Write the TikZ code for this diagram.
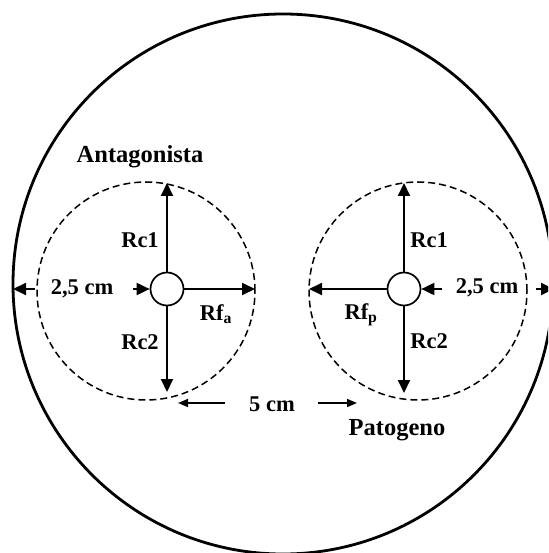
\documentclass[tikz,border=0pt]{standalone}
\usepackage{fontspec}
\setmainfont{Liberation Serif}
\usetikzlibrary{arrows.meta}
\begin{document}
\begin{tikzpicture}[x=1pt,y=-1pt,
  lbl/.style={font=\fontsize{22.5}{24}\selectfont\bfseries, inner sep=0pt, anchor=base},
  ttl/.style={font=\fontsize{24.5}{26}\selectfont\bfseries, inner sep=0pt, anchor=base},
  arr/.style={line width=1.9pt, -{Triangle[length=13pt,width=12pt]}},
  sarr/.style={line width=1.6pt, -{Triangle[length=10pt,width=8pt]}},
  plate/.style={line width=2.8pt},
  halo/.style={line width=1.5pt, dash pattern=on 7pt off 4pt},
  well/.style={circle, draw, line width=1.7pt, minimum size=33pt, inner sep=0pt, fill=white}]
\useasboundingbox (0,0) rectangle (548,553);
\fill[white] (0,0) rectangle (548,553);
\clip (0,0) rectangle (548,553);
% plate
\draw[plate] (283,284) circle (270pt);
% halos
\draw[halo] (146,291) circle (109pt);
\draw[halo] (418,291) circle (109pt);
% wells
\node[well] (ca) at (167,289) {};
\node[well] (cp) at (404,289) {};
% coordinates
\coordinate (a1) at (167,183);
\coordinate (a2) at (167,392);
\coordinate (a3) at (255,289);
\coordinate (p1) at (404,183);
\coordinate (p2) at (404,393);
\coordinate (p3) at (309,289);
\coordinate (lL) at (13,289);
\coordinate (lS) at (35,289);
\coordinate (lT) at (133,289);
\coordinate (rT) at (442,289);
\coordinate (rS) at (536,289);
\coordinate (rR) at (554,289);
\coordinate (m1) at (225,403);
\coordinate (m1e) at (178,403);
\coordinate (m2) at (318,403);
\coordinate (m2e) at (357,403);
% arrows antagonista
\draw[arr] (ca) -- (a1);
\draw[arr] (ca) -- (a2);
\draw[arr] (ca) -- (a3);
\draw[arr] (lS) -- (lL);
\draw[arr] (lT) -- (ca);
% arrows patogeno
\draw[arr] (cp) -- (p1);
\draw[arr] (cp) -- (p2);
\draw[arr] (cp) -- (p3);
\draw[arr] (rT) -- (cp);
\draw[arr] (rS) -- (rR);
% 5 cm arrows
\draw[sarr] (m1) -- (m1e);
\draw[sarr] (m2) -- (m2e);
% labels
\node[ttl] (tA) at (140,163) {Antagonista};
\node[ttl] (tP) at (397,435) {Patogeno};
\node[lbl] (dL) at (82,294) {2,5 cm};
\node[lbl] (dR) at (487,293) {2,5 cm};
\node[lbl] (d5) at (272,411) {5 cm};
\node[lbl] (rc1a) at (140,247) {Rc1};
\node[lbl] (rc2a) at (140,349) {Rc2};
\node[lbl] (rfa) at (216,320) {Rf\textsubscript{a}};
\node[lbl] (rc1p) at (429,247) {Rc1};
\node[lbl] (rc2p) at (429,348) {Rc2};
\node[lbl] (rfp) at (361,319) {Rf\textsubscript{p}};
\end{tikzpicture}
\end{document}
